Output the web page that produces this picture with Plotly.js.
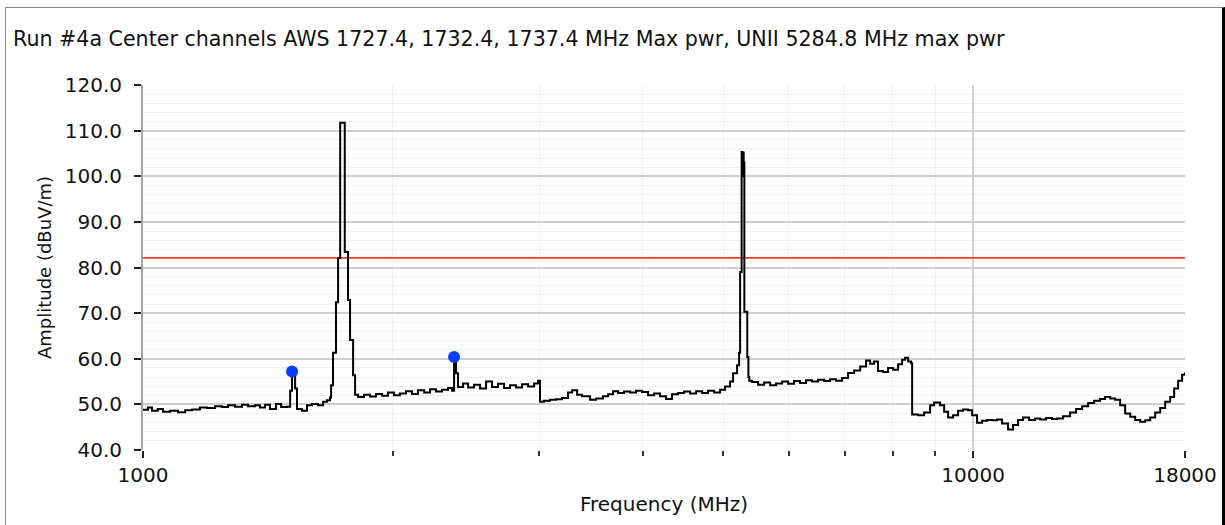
<!DOCTYPE html>
<html><head><meta charset="utf-8">
<script src="https://cdn.plot.ly/plotly-3.0.1.min.js"></script>
<style>
html,body{margin:0;padding:0;background:#fff;overflow:hidden}
#chart{width:1225px;height:525px}
#frame{position:absolute;left:5px;top:7px;width:1216px;height:530px;border-top:1px solid #8a8a8a;border-left:1px solid #8a8a8a;border-right:3px solid #000;pointer-events:none}
</style></head><body>
<div id="chart"></div><div id="frame"></div>
<script>
const freqMHz = [
1000,1014,1025,1042,1057,1078,1102,1124,1146,1171,1194,1221,1245,1266,1291,1316,1338,1364,1383,1403,1422,1446,1467,1491,
1504,1512,1525,1533,1554,1576,1598,1625,1648,1666,1680,1685,1694,1708,1718,1728,1750,1766,1776,1791,1801,
1816,1846,1877,1909,1941,1973,2006,2040,2074,2109,2144,2181,2217,2254,2292,2331,2357,2370,2383,2396,2430,2464,2505,2547,
2590,2633,2677,2722,2768,2814,2862,2910,2959,2992,3008,
3041,3093,3145,3197,3251,3288,3334,3380,3456,3514,3583,3633,3684,3735,3798,3862,3926,3992,4059,4127,4197,4267,4338,4412,
4486,4560,4638,4716,4794,4875,4957,5026,5096,5139,5196,5225,5240,5262,5272,5282,5292,5302,5345,5362,5375,
5417,5508,5601,5695,5789,5888,5986,6085,6187,6292,6397,6505,6614,6725,6838,6953,7070,7189,7311,7432,7515,7598,7682,7790,
7899,8010,8122,8212,8281,8351,8420,8444,
8585,8730,8876,8974,9125,9228,9330,9460,9592,9727,9863,9973,10111,10252,10397,10541,10688,10837,11019,11173,11329,11487,
11681,11877,12043,12246,12447,12622,12833,13087,13307,13531,13760,13990,14223,14421,14626,14830,15036,15247,15462,15677,
15896,16118,16345,16573,16804,17038,17275,17467,17660,17857,18000];
const amplitude = [
48.8,49.3,48.6,49.0,48.4,48.6,48.3,48.7,48.9,49.3,49.2,49.6,49.4,49.8,49.5,49.9,49.6,49.8,49.3,49.9,49.0,50.1,49.4,49.5,
53.0,57.2,53.5,49.0,48.6,49.8,50.1,49.8,50.6,50.9,51.5,54.2,61.3,72.4,82.1,111.7,83.4,72.9,64.1,56.4,52.1,
51.6,52.1,51.7,52.3,51.9,52.6,52.0,52.4,52.9,52.3,53.1,52.6,53.3,52.8,53.2,53.6,53.0,60.4,56.8,53.8,54.6,53.7,54.3,53.5,
55.0,53.8,54.5,53.6,54.2,53.7,54.4,53.9,54.6,55.2,50.6,
50.8,51.0,51.1,51.4,52.6,53.1,52.1,51.8,51.0,51.3,51.8,52.2,52.9,52.5,52.8,52.6,53.0,52.7,52.0,52.4,51.8,51.2,52.2,52.5,
52.8,52.4,52.9,52.5,53.0,52.6,53.2,53.9,55.0,56.8,58.6,61.3,79.0,105.3,100.0,105.2,103.0,70.3,60.4,56.0,55.2,
54.9,54.3,54.8,54.2,54.6,55.0,54.5,55.1,54.7,55.3,55.0,55.4,55.1,55.5,55.2,55.8,56.9,57.4,58.3,59.6,58.9,59.4,57.3,57.1,
58.0,57.6,58.8,59.8,60.2,59.4,59.0,47.8,
47.6,48.2,49.8,50.4,49.8,48.4,47.1,47.6,48.6,48.9,48.7,47.6,46.0,46.4,46.6,46.5,46.7,45.8,44.5,45.5,46.6,47.1,
46.6,46.9,46.7,47.0,46.8,46.9,47.4,48.2,49.0,49.6,50.3,50.8,51.2,51.6,51.3,51.0,49.8,48.0,47.3,46.6,
46.2,46.5,47.1,48.2,49.2,50.6,51.6,53.5,55.2,56.5,57.0];
const markerFreq = [1512, 2370];
const markerAmp = [57.2, 60.4];
const limitFreq = [1000, 18000];
const limitAmp = [82.1, 82.1];
const xTickVals = [1000, 10000, 18000];
const xTickText = ['1000', '10000', '18000'];
const xMinorVals = [2000, 3000, 4000, 5000, 6000, 7000, 8000, 9000];
const titleText = 'Run #4a Center channels AWS 1727.4, 1732.4, 1737.4 MHz Max pwr, UNII 5284.8 MHz max pwr';

const FONT = 'DejaVu Sans, Verdana, sans-serif';
const traces = [
  {x: limitFreq, y: limitAmp, mode: 'lines', line: {color: '#ff3b30', width: 1.8}, hoverinfo: 'skip'},
  {x: freqMHz, y: amplitude, mode: 'lines', line: {color: '#000', width: 2, shape: 'hv'}},
  {x: markerFreq, y: markerAmp, mode: 'markers', marker: {color: '#0b3dff', size: 12}}
];
const layout = {
  width: 1225, height: 525,
  margin: {l: 143, r: 40, t: 85, b: 75},
  paper_bgcolor: '#fff', plot_bgcolor: '#fff',
  showlegend: false,
  font: {family: FONT, color: '#111'},
  title: {text: titleText, font: {family: FONT, size: 20.6, color: '#111'},
          x: 13/1225, xref: 'container', xanchor: 'left', y: 1 - 39/525, yref: 'container', yanchor: 'middle'},
  xaxis: {
    type: 'log', range: [3, Math.log10(18000)], autorange: false,
    tickmode: 'array', tickvals: xTickVals, ticktext: xTickText,
    ticks: 'outside', ticklen: 7, tickwidth: 2, tickcolor: '#222',
    showgrid: true, gridcolor: '#d2d2d2', gridwidth: 2,
    showline: false, zeroline: false,
    tickfont: {family: FONT, size: 20, color: '#111'},
    minor: {tickmode: 'array', tickvals: xMinorVals, ticks: 'outside', ticklen: 5, tickwidth: 2, tickcolor: '#333',
            showgrid: true, gridcolor: '#f2f2f2', gridwidth: 1},
    title: {text: 'Frequency (MHz)', font: {family: FONT, size: 20, color: '#111'}, standoff: 10},
    automargin: false
  },
  yaxis: {
    range: [40, 120], autorange: false, tick0: 40, dtick: 10, tickformat: '.1f',
    ticks: 'outside', ticklen: 7, tickwidth: 2, tickcolor: '#222', ticklabelstandoff: 8,
    showgrid: true, gridcolor: '#cfcfcf', gridwidth: 2,
    showline: true, linecolor: '#a4a4a4', linewidth: 2, zeroline: false,
    tickfont: {family: FONT, size: 20, color: '#111'},
    minor: {dtick: 2, showgrid: true, gridcolor: '#efefef', gridwidth: 1, ticks: ''},
    title: {text: 'Amplitude (dBuV/m)', font: {family: FONT, size: 18, color: '#111'}, standoff: 8},
    automargin: false
  }
};
Plotly.newPlot('chart', traces, layout, {staticPlot: true, displayModeBar: false});
</script>
</body></html>
